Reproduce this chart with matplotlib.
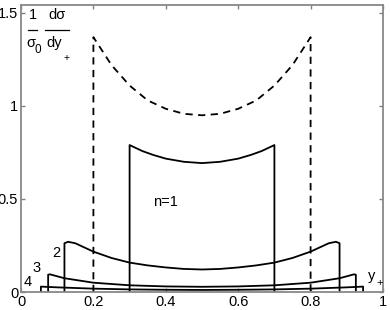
import matplotlib
matplotlib.use("Agg")
import matplotlib.pyplot as plt

plt.rcParams['font.family'] = ['Liberation Sans', 'DejaVu Sans']

# dashed curve (no cut)
x0 = [0.20, 0.20, 0.25, 0.30, 0.35, 0.40, 0.45, 0.50, 0.55, 0.60, 0.65, 0.70, 0.75, 0.80, 0.80]
y0 = [0.00, 1.37, 1.22, 1.11, 1.03, 0.985, 0.958, 0.95, 0.958, 0.985, 1.03, 1.11, 1.22, 1.37, 0.00]

# n = 1
x1 = [0.30, 0.30, 0.335, 0.365, 0.40, 0.45, 0.50, 0.55, 0.60, 0.635, 0.665, 0.70, 0.70]
y1 = [0.00, 0.79, 0.758, 0.737, 0.717, 0.700, 0.693, 0.700, 0.717, 0.737, 0.758, 0.79, 0.00]

# n = 2
x2 = [0.12, 0.12, 0.13, 0.15, 0.20, 0.25, 0.30, 0.35, 0.40, 0.45, 0.50,
      0.55, 0.60, 0.65, 0.70, 0.75, 0.80, 0.85, 0.87, 0.88, 0.88]
y2 = [0.00, 0.262, 0.270, 0.262, 0.217, 0.183, 0.158, 0.143, 0.132, 0.124, 0.121,
      0.124, 0.132, 0.143, 0.158, 0.183, 0.217, 0.262, 0.270, 0.262, 0.00]

# n = 3
x3 = [0.075, 0.075, 0.08, 0.12, 0.20, 0.30, 0.40, 0.50, 0.60, 0.70, 0.80, 0.88, 0.92, 0.925, 0.925]
y3 = [0.00, 0.093, 0.095, 0.074, 0.050, 0.036, 0.030, 0.028, 0.030, 0.036, 0.050, 0.074, 0.095, 0.093, 0.00]

# n = 4
x4 = [0.055, 0.055, 0.10, 0.20, 0.30, 0.40, 0.50, 0.60, 0.70, 0.80, 0.90, 0.945, 0.945]
y4 = [0.00, 0.029, 0.025, 0.018, 0.014, 0.012, 0.011, 0.012, 0.014, 0.018, 0.025, 0.029, 0.00]

xticks = [0, 0.2, 0.4, 0.6, 0.8, 1]
xticklabels = ['0', '0.2', '0.4', '0.6', '0.8', '1']
yticks = [0, 0.5, 1, 1.5]
yticklabels = ['0', '0.5', '1', '1.5']

fig = plt.figure(figsize=(3.9, 3.1), dpi=100)
ax = fig.add_axes([21/390, 18/310, 362/390, 287/310])

lw = 1.3
ax.plot(x0, y0, color='black', lw=lw, linestyle=(0, (4, 3)))
for xs, ys in [(x1, y1), (x2, y2), (x3, y3), (x4, y4)]:
    ax.plot(xs, ys, color='black', lw=lw)

ax.set_xlim(0, 1)
ax.set_ylim(0, 1.543)
ax.set_xticks(xticks)
ax.set_xticklabels(xticklabels)
ax.set_yticks(yticks)
ax.set_yticklabels(yticklabels)
ax.tick_params(direction='in', length=3, width=1, colors='#808080', labelcolor='black',
               labelsize=10.5, top=True, right=True, pad=2)
for s in ax.spines.values():
    s.set_color('#888888')
    s.set_linewidth(1.3)

fs = 10.5
ax.text(0.398, 0.484, 'n=1', fontsize=fs, ha='center', va='center')
ax.text(0.097, 0.21, '2', fontsize=fs, ha='center', va='center')
ax.text(0.044, 0.13, '3', fontsize=fs, ha='center', va='center')
ax.text(0.019, 0.054, '4', fontsize=fs, ha='center', va='center')

tr = fig.transFigure
def px(x, y):
    return x / 390, 1 - y / 310

# y+ label
fig.text(*px(372, 276), 'y', fontsize=fs, ha='center', va='center')
fig.text(*px(380, 283), '+', fontsize=8, ha='center', va='center')

# 1/sigma0 dsigma/dy+
fig.text(*px(33, 15), '1', fontsize=fs, ha='center', va='center')
fig.text(*px(31, 43), 'σ', fontsize=fs, ha='center', va='center')
fig.text(*px(38, 50), '0', fontsize=8.5, ha='center', va='center')
fig.text(*px(57, 15), 'dσ', fontsize=fs, ha='center', va='center')
fig.text(*px(54, 43), 'dy', fontsize=fs, ha='center', va='center')
fig.text(*px(67, 58), '+', fontsize=7.5, ha='center', va='center')
for (a, b) in [(28, 37), (45, 69)]:
    fig.add_artist(plt.Line2D([a / 390, b / 390], [1 - 30 / 310, 1 - 30 / 310],
                              color='black', lw=0.9, transform=tr))

fig.savefig('out.png', dpi=100)
